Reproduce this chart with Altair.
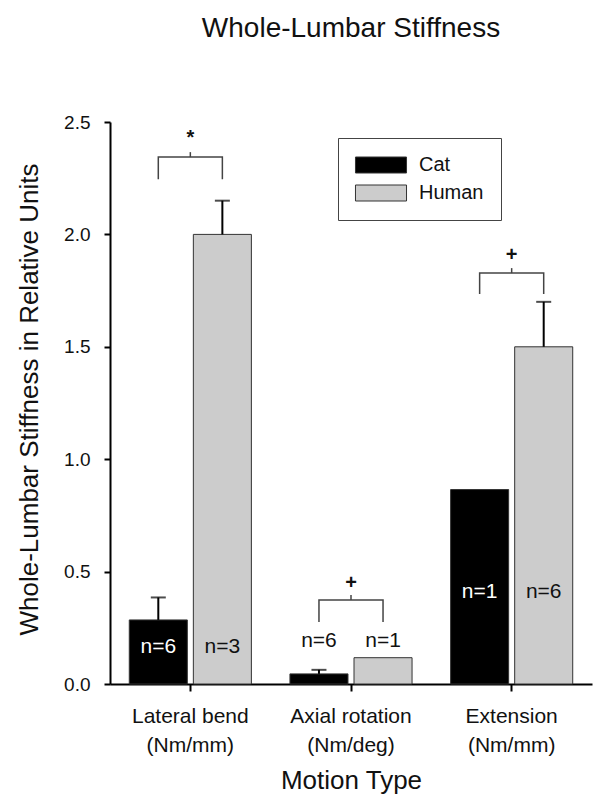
import altair as alt
import pandas as pd

# ---- data ----
categories = ["Lateral bend", "Axial rotation", "Extension"]
units = ["(Nm/mm)", "(Nm/deg)", "(Nm/mm)"]
groups = ["Cat", "Human"]
cat_values = [0.285, 0.045, 0.865]
human_values = [2.0, 0.117, 1.5]
cat_errors = [0.10, 0.018, 0.0]
human_errors = [0.15, 0.0, 0.20]
cat_n = ["n=6", "n=6", "n=1"]
human_n = ["n=3", "n=1", "n=6"]
n_label_y = [0.165, 0.19, 0.41]
sig_symbols = ["*", "+", "+"]
bracket_low = [2.245, 0.276, 1.735]
bracket_high = [2.344, 0.374, 1.828]
sig_y = [2.43, 0.45, 1.91]

FONT = "Liberation Sans"
labels = [f"{c}|{u}" for c, u in zip(categories, units)]

rows = []
for i, lab in enumerate(labels):
    for g, vals, errs, ns in (("Cat", cat_values, cat_errors, cat_n),
                              ("Human", human_values, human_errors, human_n)):
        v = vals[i]
        e = errs[i]
        ly = n_label_y[i]
        inside_black = (g == "Cat") and (ly < v)
        rows.append(dict(motion=lab, group=g, value=v, err=e, top=v + e,
                         n=ns[i], ly=ly, white=inside_black))
bars = pd.DataFrame(rows)

br_rows = []
for i, lab in enumerate(labels):
    br_rows += [
        dict(motion=lab, group="Cat", by=bracket_low[i], ord=0),
        dict(motion=lab, group="Cat", by=bracket_high[i], ord=1),
        dict(motion=lab, group="Human", by=bracket_high[i], ord=2),
        dict(motion=lab, group="Human", by=bracket_low[i], ord=3),
    ]
brackets = pd.DataFrame(br_rows)

sig = pd.DataFrame(dict(motion=labels, sym=sig_symbols, sy=sig_y,
                        hi=bracket_high, hi2=[h + 0.022 for h in bracket_high]))

ytitle = "Whole-Lumbar Stiffness in Relative Units"
yscale = alt.Scale(domain=[0, 2.5], nice=False)
yaxis = alt.Axis(values=[0, 0.5, 1.0, 1.5, 2.0, 2.5], format=".1f",
                 tickSize=6, labelPadding=14, labelFontSize=19,
                 titleFontSize=26, titleX=-73, titleY=277,
                 titleBaseline="alphabetic", titleAngle=270)
xscale = alt.Scale(domain=labels, paddingInner=0.24, paddingOuter=0.12)
xaxis = alt.Axis(labelExpr="split(datum.label, '|')", labelAngle=0,
                 labelFontSize=21, labelLineHeight=29, labelPadding=14,
                 tickSize=7, titleFontSize=26, titleY=104,
                 titleBaseline="alphabetic")


def X():
    return alt.X("motion:N", scale=xscale, axis=xaxis, title="Motion Type")


def XO():
    return alt.XOffset("group:N", scale=alt.Scale(domain=groups, paddingInner=0.094, paddingOuter=0))


def Y(field):
    return alt.Y(field, type="quantitative", scale=yscale, axis=yaxis, title=ytitle)


bar_layer = alt.Chart(bars).mark_bar(stroke="#333333", strokeWidth=1).encode(
    x=X(), xOffset=XO(), y=Y("value"),
    color=alt.Color("group:N", scale=alt.Scale(domain=groups, range=["#000000", "#cccccc"]),
                    legend=alt.Legend(title=None, orient="none", legendX=228, legendY=16,
                                      symbolType="M-3.19,-1L3.19,-1L3.19,1L-3.19,1Z",
                                      symbolSize=256, symbolOffset=16,
                                      symbolStrokeColor="#333333",
                                      symbolStrokeWidth=1, labelFontSize=20,
                                      labelFont=FONT, labelColor="#111111",
                                      padding=17, rowPadding=8, labelOffset=28,
                                      strokeColor="#444444", fillColor="white")),
)

err_data = bars[bars["err"] > 0]
err_rule = alt.Chart(err_data).mark_rule(color="black", strokeWidth=2).encode(
    x=X(), xOffset=XO(), y=Y("value"), y2="top")
err_cap = alt.Chart(err_data).mark_tick(color="black", size=15, thickness=2).encode(
    x=X(), xOffset=XO(), y=Y("top"))

bracket_line = alt.Chart(brackets).mark_line(color="#444444", strokeWidth=1.5).encode(
    x=X(), xOffset=XO(), y=Y("by"), order="ord:Q", detail="motion:N")
bracket_tick = alt.Chart(sig).mark_rule(color="#444444", strokeWidth=1.5).encode(
    x=X(), y=Y("hi"), y2="hi2")
sig_text = alt.Chart(sig).mark_text(fontSize=20, fontWeight="bold", font=FONT,
                                    color="#111111", baseline="middle").encode(
    x=X(), y=Y("sy"), text="sym:N")

n_white = alt.Chart(bars[bars["white"]]).mark_text(fontSize=21, font=FONT, color="white",
                                                   baseline="middle").encode(
    x=X(), xOffset=XO(), y=Y("ly"), text="n:N")
n_black = alt.Chart(bars[~bars["white"]]).mark_text(fontSize=21, font=FONT, color="#111111",
                                                    baseline="middle").encode(
    x=X(), xOffset=XO(), y=Y("ly"), text="n:N")

chart = alt.layer(bar_layer, err_rule, err_cap, bracket_line, bracket_tick,
                  sig_text, n_white, n_black).properties(
    width=482, height=562,
    autosize=alt.AutoSizeParams(type="none"),
    padding={"left": 102, "top": 114, "right": 2, "bottom": 110},
    title=alt.TitleParams("Whole-Lumbar Stiffness", fontSize=28, fontWeight="normal",
                          font=FONT, color="#111111", anchor="middle", frame="group",
                          offset=70),
).configure_axis(
    domainColor="black", domainWidth=2, tickColor="black", tickWidth=2,
    labelColor="#111111", titleColor="#111111", labelFont=FONT, titleFont=FONT,
    titleFontWeight="normal", grid=False,
).configure_view(stroke=None)

chart.save("out.html", embed_options={"renderer": "svg", "actions": False})
